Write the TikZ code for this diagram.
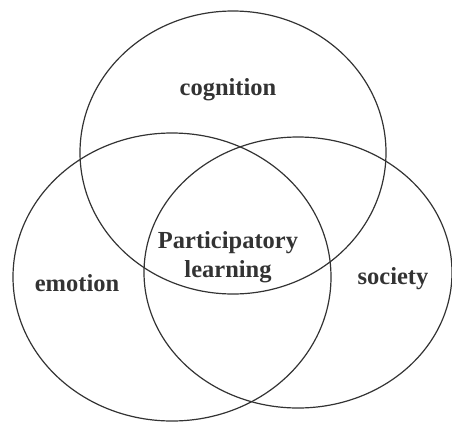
\documentclass[tikz,border=0pt]{standalone}
\usepackage{fontspec}
\setmainfont{Liberation Serif}
\begin{document}
\begin{tikzpicture}[x=1pt,y=-1pt,line join = round,line cap = round,
	ring/.style={draw=black!80,line width=1.2pt},
	lbl/.style={font=\fontsize{24.5}{29}\selectfont\bfseries,text=black!80,align=center,inner sep=0pt}]
			\useasboundingbox (0,0) rectangle (452,421);
			% three sets
			\draw[ring] (233,152.5) ellipse (153pt and 141.5pt);
			\draw[ring] (172,277) ellipse (159pt and 144pt);
			\draw[ring] (298,272.5) ellipse (154pt and 135.5pt);
			% labels
			\node[lbl] (cog) at (228,90) {cognition};
			\node[lbl] (emo) at (77,283) {emotion};
			\node[lbl] (soc) at (393,279) {society};
			\node[lbl] (part) at (228,257.5) {Participatory\\learning};
		\end{tikzpicture}
\end{document}
